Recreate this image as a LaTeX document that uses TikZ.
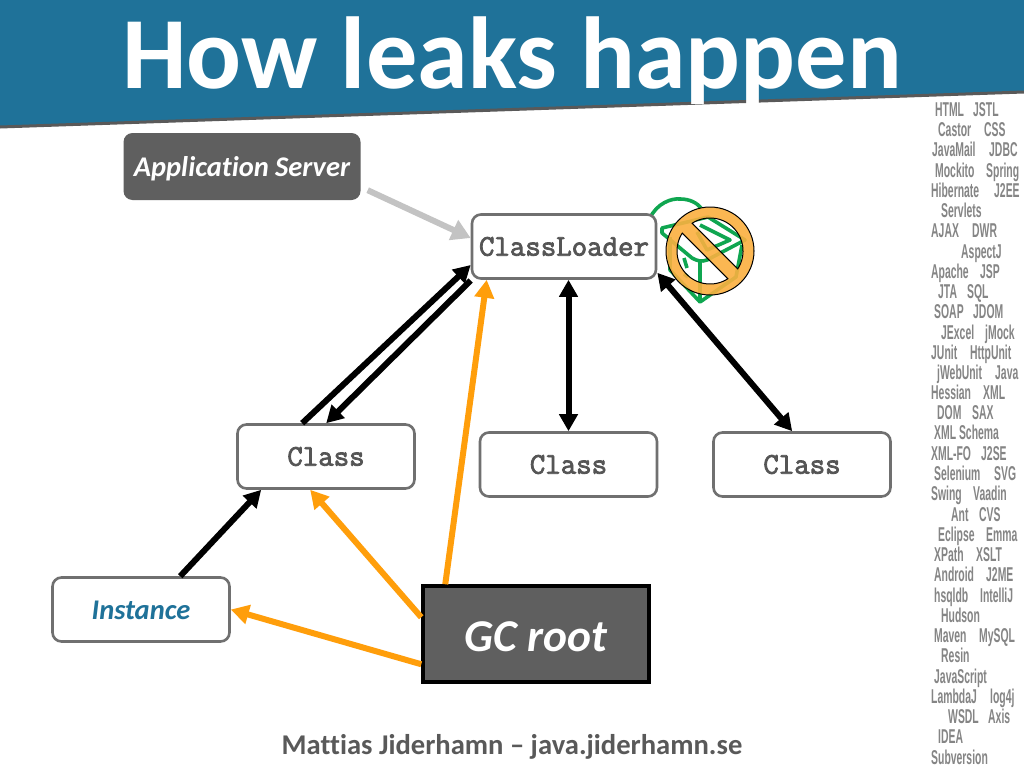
\documentclass[tikz,border=0pt]{standalone}
\usepackage{fontspec}
\setmainfont[Ligatures=NoCommon]{Carlito}
\newfontfamily\monof[FakeBold=2.6]{Latin Modern Mono}
\newfontfamily\sidef[FakeStretch=0.52]{Liberation Sans}
\usetikzlibrary{arrows.meta}
\definecolor{bannerblue}{HTML}{1F7299}
\definecolor{darkbox}{HTML}{5F5F5F}
\definecolor{boxedge}{HTML}{707070}
\definecolor{monotext}{HTML}{555555}
\definecolor{sidegray}{HTML}{858585}
\definecolor{footgray}{HTML}{595959}
\definecolor{leakorange}{HTML}{FF9E0B}
\definecolor{arrowgray}{HTML}{C3C3C3}
\definecolor{bingreen}{HTML}{0FA650}
\definecolor{signorange}{HTML}{FBB040}
\tikzset{
  x=1pt,y=-1pt,
  whitebox/.style={draw=boxedge,line width=2.6pt,rounded corners=9pt,fill=white,inner sep=0pt,minimum width=177pt,minimum height=64pt},
  monolabel/.style={whitebox,font=\monof\fontsize{30}{31}\selectfont,text=monotext},
  blk/.style={draw=black,line width=6pt,-{Triangle[length=17pt,width=18pt]}},
  blkboth/.style={draw=black,line width=6pt,{Triangle[length=17pt,width=18pt]}-{Triangle[length=17pt,width=18pt]}},
  org/.style={draw=leakorange,line width=6pt,-{Triangle[length=18pt,width=19pt]}},
  gry/.style={draw=arrowgray,line width=6pt,-{Triangle[length=19pt,width=21pt]}},
  sideword/.style={anchor=west,inner sep=0pt,text=sidegray,font=\sidef\bfseries\fontsize{20}{21}\selectfont},
  binline/.style={draw=bingreen,line width=3.6pt,line join=round}
}
\begin{document}
\begin{tikzpicture}
\useasboundingbox (0,0) rectangle (1024,768);
\fill[white] (0,0) rectangle (1024,768);
% banner
\fill[bannerblue] (0,0) -- (1024,0) -- (1024,92) -- (0,127) -- cycle;
\draw[footgray,line width=3pt] (0,127) -- (1024,92);
\node[inner sep=0pt,text=white,font=\bfseries\fontsize{102.3}{110}\selectfont] (title) at (512,61) {How leaks happen};
% sidebar
\foreach[count=\i] \yy/\xx/\myword in {
110/935/HTML,110/973/JSTL,130/938/Castor,130/984/CSS,150/932/JavaMail,150/989/JDBC,
171/935/Mockito,171/986/Spring,191/931/Hibernate,191/994/J2EE,211/941/Servlets,
231/931/AJAX,231/972/DWR,252/961/AspectJ,272/931/Apache,272/980/JSP,292/938/JTA,292/967/SQL,
312/934/SOAP,312/973/JDOM,333/941/JExcel,333/985/jMock,353/931/JUnit,353/970/HttpUnit,
373/937/jWebUnit,373/995/Java,393/931/Hessian,393/983/XML,413/937/DOM,413/972/SAX,
433/934/XML Schema,454/931/XML-FO,454/981/J2SE,474/934/Selenium,474/994/SVG,
494/931/Swing,494/973/Vaadin,515/951/Ant,515/979/CVS,535/938/Eclipse,535/986/Emma,
555/934/XPath,555/976/XSLT,575/934/Android,575/986/J2ME,596/934/hsqldb,596/980/IntelliJ,
616/941/Hudson,636/934/Maven,636/979/MySQL,656/941/Resin,677/934/JavaScript,
697/931/LambdaJ,697/990/log4j,717/948/WSDL,717/988/Axis,737/938/IDEA,758/931/Subversion}
{\node[sideword] (w\i) at (\xx,\yy+2) {\strut\myword};}
% recycle bin icon
\draw[binline] (650,218) .. controls (657,203) and (672,198) .. (680,199) .. controls (690,199) and (697,203) .. (701,208);
\draw[binline] (662,228) -- (708,217) -- (745,240) -- (707,260) .. controls (702,262) and (697,261) .. (692,258) -- (662,233) -- cycle;
\draw[binline] (670,237) -- (670,270) -- (700,302) -- (736,277) -- (742,245);
\draw[binline] (700,302) -- (700,262);
\draw[binline] (700,225) -- (730,240) -- (707,250) -- (697,232);
\draw[binline] (684,258) -- (687,268);
\draw[binline] (684,274) -- (688,277);
% prohibition sign
\path[fill=signorange,fill opacity=.9,draw=black,line width=1pt,even odd rule]
  (710,251) circle[radius=44]
  plot[domain=-122.8:32.8,samples=50] ({710+33*cos(\x)},{251+33*sin(\x)}) -- cycle
  plot[domain=57.2:212.8,samples=50] ({710+33*cos(\x)},{251+33*sin(\x)}) -- cycle;
% nodes
\node[fill=darkbox,rounded corners=9pt,minimum width=237pt,minimum height=67pt,inner sep=0pt,text=white,font=\bfseries\itshape\fontsize{28.5}{30}\selectfont] (app) at (242,166.5) {\raisebox{0pt}[19pt][0pt]{Application Server}};
\node[monolabel,minimum width=184pt] (cl) at (564,246.5) {ClassLoader};
\node[monolabel] (c1) at (326,456.5) {Class};
\node[monolabel] (c2) at (568.5,464.5) {Class};
\node[monolabel] (c3) at (802,464.5) {Class};
\node[whitebox,text=bannerblue,font=\bfseries\itshape\fontsize{28.5}{30}\selectfont] (inst) at (141,609.5) {\raisebox{0pt}[20pt][0pt]{Instance}};
\node[draw=black,line width=3.5pt,fill=darkbox,minimum width=226pt,minimum height=96pt,inner sep=0pt,text=white,font=\bfseries\itshape\fontsize{45.5}{48}\selectfont] (gc) at (536,634) {\raisebox{0pt}[34pt][0pt]{GC root}};
\node[inner sep=0pt,text=footgray,font=\bfseries\fontsize{28.6}{30}\selectfont] (foot) at (512,747) {Mattias Jiderhamn – java.jiderhamn.se};
% connectors
\draw[gry] ([xshift=7pt,yshift=10pt]app.south east) -- ([yshift=8.5pt]cl.west);
\draw[blk] ([xshift=66pt]c1.north west) -- ([yshift=-18.5pt]cl.west);
\draw[blk] ([yshift=-34pt]cl.west) -- ([xshift=90pt]c1.north west);
\draw[org] ([xshift=24pt]gc.north west) -- ([xshift=16pt]cl.south west);
\draw[org] ([yshift=-33pt]gc.north west) -- ([xshift=74pt]c1.south west);
\draw[org] ([yshift=-80pt]gc.north west) -- (inst.east);
\draw[blk] ([xshift=129pt]inst.north west) -- ([xshift=25pt]c1.south west);
\draw[blkboth] (c2.north) -- (c2.north |- cl.south);
\draw[blkboth] ([xshift=80pt]c3.north west) -- ([yshift=7pt]cl.south east);
\end{tikzpicture}
\end{document}
